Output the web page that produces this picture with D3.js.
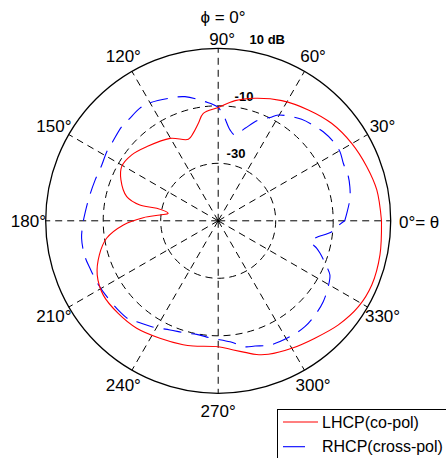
<!DOCTYPE html>
<html>
<head>
<meta charset="utf-8">
<script src="https://cdn.jsdelivr.net/npm/d3@7"></script>
<style>
  body { margin: 0; background: #fff; }
  svg { display: block; font-family: "Liberation Sans", Arial, sans-serif; }
</style>
</head>
<body>
<svg id="chart"></svg>
<script>
// LHCP (co-pol), angle in degrees and gain in dB
const thetaCo = [0, 11, 20, 30, 40.7, 50.9, 62.1, 73.3, 82, 90, 97.9, 101.5, 105.9, 110.1, 120.3, 134,
  142.7, 150.7, 157.2, 165.2, 168.6, 168.5, 171.5, 174.3, 177.6, 182.5, 188.9, 196, 204.1, 212.9,
  222.8, 232.8, 243.6, 254.2, 258.8, 270, 276.7, 281.5, 286, 290.6, 300, 309.5, 319.1, 328.5,
  337.3, 348.1, 360]
const gainCo = [6.8, 6.2, 5.0, 3.7, 2.0, -0.3, -2.7, -5.5, -7.8, -10.6, -12.3, -15.4, -18.3, -19.8, -16.8, -14.2,
  -12.2, -11.5, -13.3, -17.1, -22.2, -28.2, -32.4, -29.7, -23.9, -17.0, -10.7, -7.0, -3.9, -2.4,
  -2.6, -3.1, -4.4, -5.2, -5.6, -6.2, -4.75, -3.3, -1.6, -0.4, 1.2, 2.9, 5.3, 7.2,
  7.9, 7.5, 6.8]

// RHCP (cross-pol)
const thetaCross = [0, 3.3, 9.7, 14.5, 18.7, 24.7, 29.6, 34.5, 40.3, 44.2, 50.6, 60.4, 63.4, 68.3, 73.8,
  78.9, 82.6, 87.2, 90.5, 96.3, 105, 112.2, 120.8, 124.8, 131.7, 135.7, 144, 148.2, 154.4, 161.7,
  169.4, 176.7, 180, 187.3, 195, 200.3, 206.6, 211.7, 221.8, 228.4, 231.1, 237.9, 246.2, 254.4,
  259.3, 266.8, 275.6, 282, 286.4, 292.6, 301.8, 309.3, 315.8, 322.4, 329.1, 334.1, 337.1, 342.3,
  344.4, 347.3, 349.8, 354.5, 357.1, 360]
const gainCross = [-6.0, -5.2, -3.5, -2.7, -2.2, -2.1, -1.3, -1.4, -2.1, -3.0, -4.3, -7.7, -9.8, -12.3, -16.5,
  -19.6, -18.1, -13.2, -10.3, -8.3, -5.3, -4.0, -2.45, -2.3, -3.0, -3.1, -4.2, -4.4, -5.1, -4.9,
  -4.4, -3.6, -3.1, -2.1, -2.0, -2.45, -2.7, -3.0, -3.4, -3.8, -4.9, -6.5, -8.5, -9.4,
  -9.8, -9.1, -7.7, -5.2, -4.6, -3.2, -2.6, -2.4, -3.0, -3.9, -5.4, -6.8, -9.0, -12.8,
  -14.4, -17.0, -15.8, -10.3, -8.7, -6.0]

const ringLevels = [-30, -10]
const ringLabels = ['-30', '-10', '10 dB']
const angleTicks = [0, 30, 60, 90, 120, 150, 180, 210, 240, 270, 300, 330]
const seriesNames = ['LHCP(co-pol)', 'RHCP(cross-pol)']

const width = 446, height = 458
const cx = 218.2, cy = 220.8, R = 172.5

const svg = d3.select('#chart').attr('width', width).attr('height', height)

const rScale = d3.scaleLinear().domain([-50, 10]).range([0, R])
const rad = d => d * Math.PI / 180
const pt = (a, r) => [cx + r * Math.cos(rad(a)), cy - r * Math.sin(rad(a))]

const g = svg.append('g')

// spokes
g.selectAll('.spoke').data(angleTicks).enter()
  .append('line')
  .attr('x1', cx).attr('y1', cy)
  .attr('x2', d => pt(d, R)[0]).attr('y2', d => pt(d, R)[1])
  .attr('stroke', '#000').attr('stroke-width', 1)
  .attr('stroke-dasharray', '7,5')

// inner rings
g.selectAll('.ring').data(ringLevels).enter()
  .append('circle')
  .attr('cx', cx).attr('cy', cy)
  .attr('r', d => rScale(d))
  .attr('fill', 'none')
  .attr('stroke', '#000').attr('stroke-width', 1)
  .attr('stroke-dasharray', '7,5')

// outer ring
g.append('circle')
  .attr('cx', cx).attr('cy', cy).attr('r', rScale(10))
  .attr('fill', 'none').attr('stroke', '#000').attr('stroke-width', 1.3)

// ring labels, at 82 deg like matlab polar
const ringValues = ringLevels.concat([10])
g.selectAll('.ringLabel').data(ringValues).enter()
  .append('text')
  .attr('x', (d, i) => pt(82, rScale(d + 1))[0] + (i === 2 ? 7 : 0))
  .attr('y', d => pt(82, rScale(d + 1))[1] - 3)
  .attr('font-size', '13px')
  .attr('font-weight', 'bold')
  .text((d, i) => ringLabels[i])

// angle labels
g.selectAll('.angLabel').data(angleTicks.filter(d => d !== 0)).enter()
  .append('text')
  .attr('x', d => pt(d, R * 1.1)[0] + (d === 90 ? 4 : 0))
  .attr('y', d => d === 90 ? cy - 182 : pt(d, R * 1.1)[1])
  .attr('dy', '0.35em')
  .attr('text-anchor', 'middle')
  .attr('font-size', '17px')
  .text(d => d + '°')

g.append('text')
  .attr('x', pt(0, R * 1.1)[0] - 9)
  .attr('y', cy + 1)
  .attr('dy', '0.35em')
  .attr('font-size', '17px')
  .text('0°= θ')

svg.append('text')
  .attr('x', 223).attr('y', 17)
  .attr('dy', '0.35em')
  .attr('text-anchor', 'middle')
  .attr('font-size', '17px')
  .text('ϕ = 0°')

// curves
const line = d3.lineRadial()
  .angle(d => rad(90 - d[0]))
  .radius(d => rScale(d[1]))
  .curve(d3.curveCatmullRom.alpha(0.5))

const plot = svg.append('g').attr('transform', `translate(${cx},${cy})`)

plot.append('path')
  .datum(d3.zip(thetaCross, gainCross))
  .attr('d', line)
  .attr('fill', 'none')
  .attr('stroke', '#0000ff').attr('stroke-width', 1.1)
  .attr('stroke-dasharray', '18,10')

plot.append('path')
  .datum(d3.zip(thetaCo, gainCo))
  .attr('d', line)
  .attr('fill', 'none')
  .attr('stroke', '#ff0000').attr('stroke-width', 1.1)

// legend
const legend = svg.append('g').attr('transform', 'translate(277.5,409.5)')
legend.append('rect')
  .attr('width', 200).attr('height', 80)
  .attr('fill', '#fff').attr('stroke', '#000').attr('stroke-width', 1)
const colors = ['#ff0000', '#0000ff']
const items = legend.selectAll('.item').data(seriesNames).enter()
  .append('g')
  .attr('transform', (d, i) => `translate(0,${12.5 + i * 24.7})`)
items.append('line')
  .attr('x1', 5.5).attr('x2', 40.5)
  .attr('stroke', (d, i) => colors[i]).attr('stroke-width', 1.1)
  .attr('stroke-dasharray', (d, i) => i === 1 ? '22,13' : null)
items.append('text')
  .attr('x', 44.5).attr('dy', '0.35em')
  .attr('font-size', '16px')
  .text(d => d)
</script>
</body>
</html>
